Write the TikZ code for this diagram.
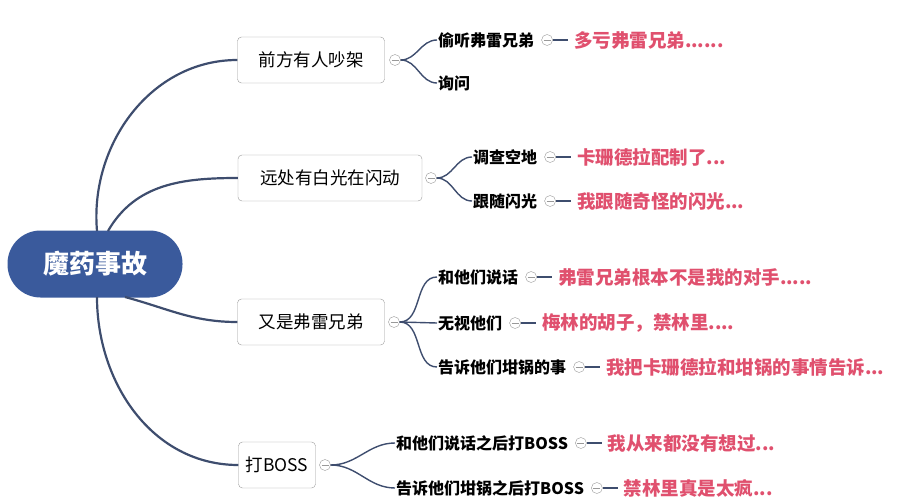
\documentclass[tikz,border=0pt]{standalone}
\usepackage{fontspec}
\setmainfont{Noto Sans CJK SC}
\usetikzlibrary{positioning}
\definecolor{rootblue}{HTML}{3A5A9C}
\definecolor{linkblue}{HTML}{3E4D6E}
\definecolor{notered}{HTML}{E0506E}
\begin{document}
\begin{tikzpicture}[x=1pt,y=-1pt,
    root/.style={rectangle, rounded corners=33pt, fill=rootblue, text=white, font=\fontsize{26}{28}\selectfont\bfseries, minimum width=175pt, minimum height=67pt},
    topic/.style={rectangle, draw=gray!80, rounded corners=4pt, font=\fontsize{17.5}{19}\selectfont, minimum height=46pt, inner xsep=4pt},
    sub/.style={font=\fontsize{16}{18}\selectfont\bfseries, anchor=west, inner sep=1pt},
    note/.style={font=\fontsize{18.5}{20}\selectfont\bfseries, text=notered, anchor=west, inner sep=1pt},
    knob/.style={circle, draw=gray!80, fill=white, inner sep=0pt, minimum size=11pt, path picture={\draw[gray!80] ([xshift=2pt]path picture bounding box.west) -- ([xshift=-2pt]path picture bounding box.east);}},
    branch/.style={line width=2.2pt, draw=linkblue},
    twig/.style={line width=1.4pt, draw=linkblue}
]
\useasboundingbox (0,0) rectangle (904,500);

% Root
\node[root] (magic) at (95,264) {魔药事故};

% Main topics
\node[topic, minimum width=147pt] (quarrel) at (311,60) {前方有人吵架};
\node[topic, minimum width=184pt] (flash) at (330,178) {远处有白光在闪动};
\node[topic, minimum width=147pt] (twins) at (311,322) {又是弗雷兄弟};
\node[topic, minimum width=77pt] (boss) at (277,465) {打BOSS};

% Root links
\draw[branch] (97,231) to[out=95,in=180] (quarrel.west);
\draw[branch] (108,231) to[out=60,in=180] (flash.west);
\draw[branch] (125,297) to[out=-15,in=180] (twins.west);
\draw[branch] (97,297) to[out=-90,in=180] (boss.west);

% Knobs
\node[knob] (kq) at (395,60) {};
\node[knob] (kf) at (431,178) {};
\node[knob] (kt) at (394,322) {};
\node[knob] (kb) at (325,465) {};

% Sub items
\node[sub] (listen) at (437,40) {偷听弗雷兄弟};
\node[sub] (ask) at (437,83) {询问};
\node[sub] (field) at (472,157) {调查空地};
\node[sub] (follow) at (472,201) {跟随闪光};
\node[sub] (talk) at (437,277) {和他们说话};
\node[sub] (ignore) at (437,323) {无视他们};
\node[sub] (tell) at (437,367) {告诉他们坩锅的事};
\node[sub] (talkboss) at (395,443) {和他们说话之后打BOSS};
\node[sub] (tellboss) at (395,488) {告诉他们坩锅之后打BOSS};

\draw[twig] (kq.east) to[out=0,in=180] (listen.west);
\draw[twig] (kq.east) to[out=0,in=180] (ask.west);
\draw[twig] (kf.east) to[out=0,in=180] (field.west);
\draw[twig] (kf.east) to[out=0,in=180] (follow.west);
\draw[twig] (kt.east) to[out=0,in=180] (talk.west);
\draw[twig] (kt.east) -- (ignore.west);
\draw[twig] (kt.east) to[out=0,in=180] (tell.west);
\draw[twig] (kb.east) to[out=0,in=180] (talkboss.west);
\draw[twig] (kb.east) to[out=0,in=180] (tellboss.west);

% Notes
\foreach \s/\k/\n/\t in {listen/kl/nl/{多亏弗雷兄弟......},
                         field/kd/nd/{卡珊德拉配制了...},
                         follow/kw/nw/{我跟随奇怪的闪光...},
                         talk/ka/na/{弗雷兄弟根本不是我的对手.....},
                         ignore/ki/ni/{梅林的胡子，禁林里....},
                         tell/ke/ne/{我把卡珊德拉和坩锅的事情告诉...},
                         talkboss/kx/nx/{我从来都没有想过...},
                         tellboss/ky/ny/{禁林里真是太疯...}} {
  \node[knob, right=6pt of \s] (\k) {};
  \node[note, right=20pt of \k] (\n) {\t};
  \draw[twig] (\k.east) -- ++(15pt,0);
}
\end{tikzpicture}
\end{document}
